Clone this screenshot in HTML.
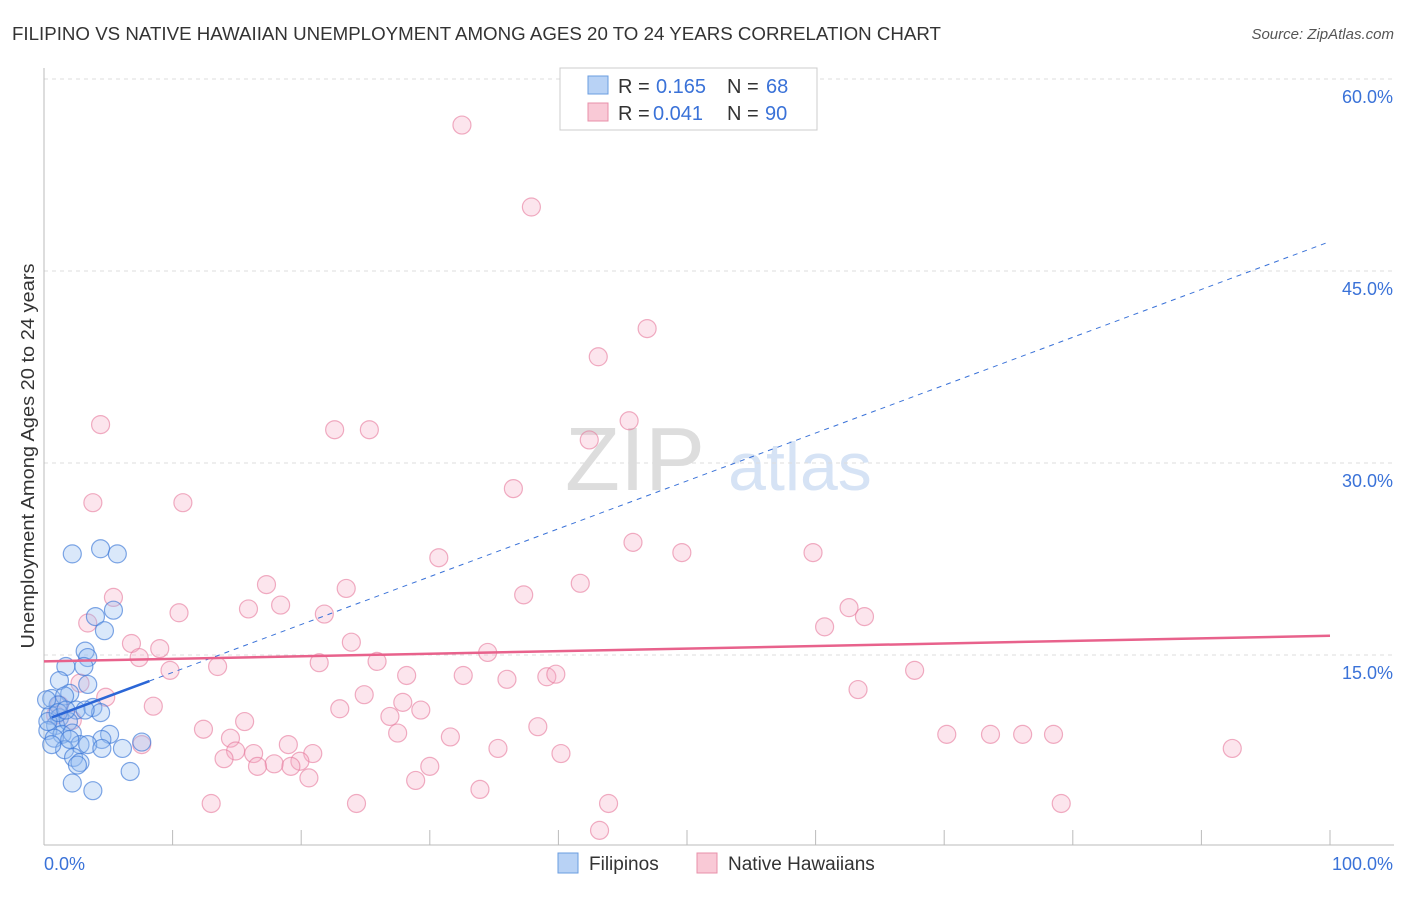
<!DOCTYPE html>
<html><head><meta charset="utf-8"><style>
body{margin:0;background:#fff;font-family:"Liberation Sans",sans-serif;}
svg text{font-family:"Liberation Sans",sans-serif;}
</style></head><body>
<svg id="chart" width="1406" height="892">
<text x="12" y="40" font-size="18" fill="#333" textLength="929" lengthAdjust="spacingAndGlyphs">FILIPINO VS NATIVE HAWAIIAN UNEMPLOYMENT AMONG AGES 20 TO 24 YEARS CORRELATION CHART</text>
<text x="1394" y="39" font-size="15" fill="#555" font-style="italic" text-anchor="end">Source: ZipAtlas.com</text>
<text x="635" y="490" font-size="90" fill="#ddd" font-family="Liberation Serif" text-anchor="middle">ZIP</text>
<text x="800" y="490" font-size="68" fill="#d6e3f5" text-anchor="middle">atlas</text>
<text transform="translate(34,456) rotate(-90)" font-size="18" fill="#333" text-anchor="middle" textLength="385" lengthAdjust="spacingAndGlyphs">Unemployment Among Ages 20 to 24 years</text>
<g id="grid"></g><g id="marks"></g>
<g>
<rect x="560" y="68" width="257" height="62" fill="#fff" stroke="#ccc"/>
<rect x="588" y="76" width="20" height="18" fill="#b8d2f5" stroke="#6a9de0"/>
<text x="618" y="93" font-size="20" fill="#333">R =</text><text x="656" y="93" font-size="20" fill="#3a72d8">0.165</text>
<text x="727" y="93" font-size="20" fill="#333">N =</text><text x="766" y="93" font-size="20" fill="#3a72d8">68</text>
<rect x="588" y="103" width="20" height="18" fill="#f9c9d6" stroke="#e890aa"/>
<text x="618" y="120" font-size="20" fill="#333">R =</text><text x="653" y="120" font-size="20" fill="#3a72d8">0.041</text>
<text x="727" y="120" font-size="20" fill="#333">N =</text><text x="765" y="120" font-size="20" fill="#3a72d8">90</text>
</g>
<g>
<rect x="558" y="853" width="20" height="20" fill="#b8d2f5" stroke="#6a9de0"/>
<text x="589" y="870" font-size="19" fill="#333">Filipinos</text>
<rect x="697" y="853" width="20" height="20" fill="#f9c9d6" stroke="#e890aa"/>
<text x="728" y="870" font-size="19" fill="#333">Native Hawaiians</text>
</g>
</svg>
<script>
const yTicks=[15,30,45,60];
const xTickLabels=["0.0%","100.0%"];
const blueX=[2.2,4.4,5.7,4.0,5.4,4.7,3.2,3.4,1.7,3.1,1.2,3.4,2.0,0.6,1.6,1.1,2.5,3.8,4.4,0.5,1.2,0.9,1.9,0.3,1.4,2.2,0.8,5.1,4.5,7.6,2.8,3.4,1.6,4.5,6.1,2.3,2.8,2.6,6.7,2.2,3.8,0.2,0.3,1.1,1.7,0.6,3.2,2.0];
const blueY=[22.9,23.3,22.9,18.0,18.5,16.9,15.3,14.8,14.1,14.1,13.0,12.7,12.0,11.6,11.8,11.1,10.7,10.9,10.5,10.3,10.1,9.5,9.8,9.1,8.8,8.9,8.5,8.8,8.4,8.2,8.0,8.0,7.6,7.7,7.7,7.0,6.6,6.4,5.9,5.0,4.4,11.5,9.8,10.5,10.7,8.0,10.7,8.4];
const pinkX=[32.5,37.9,46.9,43.1,4.4,22.6,25.3,45.5,42.4,3.8,10.8,36.5,45.8,49.6,30.7,59.8,41.7,17.3,23.5,37.3,5.4,18.4,15.9,10.5,21.8,62.6,63.8,60.7,3.4,6.8,9.0,23.9,34.5,7.4,21.4,25.9,13.5,9.8,32.6,28.2,36.0,39.1,39.8,67.7,2.8,63.3,24.9,4.8,8.5,23.0,27.9,29.3,26.9,15.6,38.4,12.4,27.5,14.5,31.6,70.2,73.6,76.1,78.5,7.6,19.0,35.3,14.9,92.4,16.3,20.9,40.2,14.0,19.9,17.9,16.6,19.2,30.0,20.6,28.9,33.9,13.0,24.3,43.9,79.1,43.2,1.2,2.2,0.9];
const pinkY=[56.4,50.0,40.5,38.3,33.0,32.6,32.6,33.3,31.8,26.9,26.9,28.0,23.8,23.0,22.6,23.0,20.6,20.5,20.2,19.7,19.5,18.9,18.6,18.3,18.2,18.7,18.0,17.2,17.5,15.9,15.5,16.0,15.2,14.8,14.4,14.5,14.1,13.8,13.4,13.4,13.1,13.3,13.5,13.8,12.8,12.3,11.9,11.7,11.0,10.8,11.3,10.7,10.2,9.8,9.4,9.2,8.9,8.5,8.6,8.8,8.8,8.8,8.8,8.0,8.0,7.7,7.5,7.7,7.3,7.3,7.3,6.9,6.7,6.5,6.3,6.3,6.3,5.4,5.2,4.5,3.4,3.4,3.4,3.4,1.3,11.1,9.9,10.3];
const blueTrend=[9.9,47.3], blueSolidEnd=8.2;
const pinkTrend=[14.5,16.5];
const NS="http://www.w3.org/2000/svg";
const X=v=>44+v/100*1286, Y=v=>847-v/15*192;
function mk(t,a,p){const e=document.createElementNS(NS,t);for(const k in a)e.setAttribute(k,a[k]);p.appendChild(e);return e;}
const g=document.getElementById('grid'), m=document.getElementById('marks');
yTicks.forEach(t=>{
 const l=mk('line',{x1:44,x2:1394,y1:Y(t),y2:Y(t),stroke:'#ddd','stroke-dasharray':'4,4'},g);
 
 
 const tx=mk('text',{x:1393,y:Y(t)+24,'font-size':18,fill:'#3a72d8','text-anchor':'end'},g);tx.textContent=t.toFixed(1)+'%';
 
 
});
const ax=mk('line',{x1:44,x2:44,y1:68,y2:845,stroke:'#bbb'},g);


const bx=mk('line',{x1:44,x2:1394,y1:845,y2:845,stroke:'#bbb'},g);


for(let i=0;i<=10;i++){const t=mk('line',{x1:X(i*10),x2:X(i*10),y1:830,y2:845,stroke:'#bbb'},g);
 
 }
[[0,'start',44],[1,'end',1393]].forEach(([i,a,x])=>{const t=mk('text',{x:x,y:870,'font-size':18,fill:'#3a72d8','text-anchor':a},g);t.textContent=xTickLabels[i];
 
 });
pinkX.forEach((x,i)=>{const c=mk('circle',{cx:X(x),cy:Y(pinkY[i]),r:9,fill:'rgba(246,170,195,0.3)',stroke:'rgba(230,120,155,0.6)','stroke-width':1.2},m);
 
 });
blueX.forEach((x,i)=>{const c=mk('circle',{cx:X(x),cy:Y(blueY[i]),r:9,fill:'rgba(150,190,240,0.35)',stroke:'rgba(60,120,215,0.65)','stroke-width':1.2},m);
 
 });
const by=x=>blueTrend[0]+(blueTrend[1]-blueTrend[0])*x/100;
const bd=mk('line',{x1:X(blueSolidEnd),y1:Y(by(blueSolidEnd)),x2:X(100),y2:Y(by(100)),stroke:'#3a72d8','stroke-width':1,'stroke-dasharray':'5,5'},m);


const bs=mk('line',{x1:X(0.6),y1:Y(by(0.6)),x2:X(blueSolidEnd),y2:Y(by(blueSolidEnd)),stroke:'#2b66d6','stroke-width':2.5},m);


const pl=mk('line',{x1:X(0),y1:Y(pinkTrend[0]),x2:X(100),y2:Y(pinkTrend[1]),stroke:'#e8628c','stroke-width':2.5},m);


</script>
</body></html>
